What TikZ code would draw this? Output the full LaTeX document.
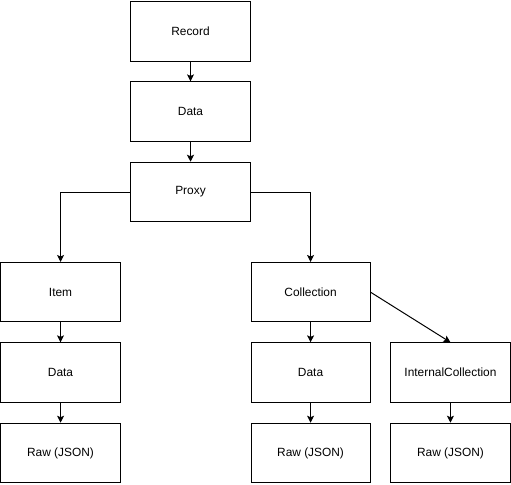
\documentclass[tikz,border=0pt]{standalone}
\usepackage{fontspec}
\setmainfont{Liberation Sans}
\usetikzlibrary{arrows.meta, positioning}

\begin{document}
\begin{tikzpicture}[
        x=1pt, y=1pt,
        node distance=20pt and 20pt,
        box/.style={rectangle, draw=black, line width=1pt, fill=white, align=center, minimum height=60pt, minimum width=120pt, font=\fontsize{12}{14}\selectfont},
        arrow/.style={-{Stealth[length=7pt, width=7pt, inset=1.5pt]}, line width=1pt}
    ]
        % Top chain
        \node[box] (record) {Record};
        \node[box, below=of record] (recdata) {Data};
        \node[box, below=of recdata] (proxy) {Proxy};

        % Item branch (left)
        \node[box, below left=40pt and 10pt of proxy] (item) {Item};
        \node[box, below=of item] (itemdata) {Data};
        \node[box, below=of itemdata] (itemraw) {Raw (JSON)};

        % Collection branch (right)
        \node[box, below right=40pt and 0pt of proxy] (coll) {Collection};
        \node[box, below=of coll] (colldata) {Data};
        \node[box, below=of colldata] (collraw) {Raw (JSON)};
        \node[box, right=of colldata] (intcoll) {InternalCollection};
        \node[box, below=of intcoll] (intraw) {Raw (JSON)};

        % Bounding box
        \useasboundingbox ([xshift=-0.5pt, yshift=1pt]item.west |- record.north) rectangle ([xshift=0.5pt, yshift=-1pt]intraw.south east);

        % Connections
        \draw[arrow] (record) -- (recdata);
        \draw[arrow] (recdata) -- (proxy);
        \draw[arrow] (proxy.west) -| (item.north);
        \draw[arrow] (proxy.east) -| (coll.north);
        \draw[arrow] (item) -- (itemdata);
        \draw[arrow] (itemdata) -- (itemraw);
        \draw[arrow] (coll) -- (colldata);
        \draw[arrow] (colldata) -- (collraw);
        \draw[arrow] (coll.east) -- (intcoll.north);
        \draw[arrow] (intcoll) -- (intraw);
    \end{tikzpicture}
\end{document}
